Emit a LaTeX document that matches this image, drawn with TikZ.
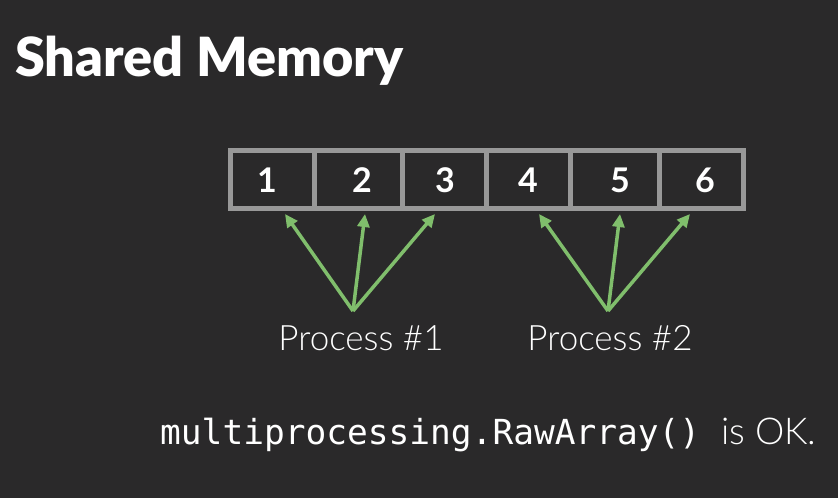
\documentclass[tikz,border=0pt]{standalone}
\usepackage{fontspec}
\setmainfont{Lato}
\newfontfamily\titlefont{Lato Black}
\newfontfamily\lightfont{Lato Light}
\setmonofont{DejaVu Sans Mono}
\usetikzlibrary{arrows.meta}
\definecolor{bg}{RGB}{42,41,42}
\definecolor{cellframe}{RGB}{152,152,152}
\definecolor{ptr}{RGB}{128,190,108}
\begin{document}
\begin{tikzpicture}[x=1pt,y=-1pt,
  cellbox/.style={draw=cellframe,line width=5pt},
  numtext/.style={text=white,inner sep=0pt,font=\fontsize{34}{34}\selectfont\bfseries},
  ptrarrow/.style={draw=ptr,line width=3.5pt,-{Triangle[length=13pt,width=12pt]}},
  proclabel/.style={text=white,inner sep=0pt,anchor=base,font=\lightfont\fontsize{35}{35}\selectfont}]
\fill[bg] (0,0) rectangle (838,498);
\useasboundingbox (0,0) rectangle (838,498);
% heading
\node[text=white,anchor=base west,inner sep=0pt,font=\titlefont\fontsize{54}{54}\selectfont]
  (title) at (15,76) {Shared Memory};
% the six array cells
\foreach \xa/\xb in {230/314,314/402,402/486,486/570,570/659,659/743}{
  \draw[cellbox] (\xa,150.5) rectangle (\xb,208.5);
}
\node[numtext] (n1) at (267,180) {1};
\node[numtext] (n2) at (362,180) {2};
\node[numtext] (n3) at (445,180) {3};
\node[numtext] (n4) at (528,180) {4};
\node[numtext] (n5) at (620,180) {5};
\node[numtext] (n6) at (705,180) {6};
% arrow tips under the cells
\coordinate (a1) at (285,214);
\coordinate (a2) at (365,214);
\coordinate (a3) at (435,214);
\coordinate (a4) at (539,214);
\coordinate (a5) at (620,214);
\coordinate (a6) at (690,214);
% processes
\coordinate (p1) at (353,311);
\coordinate (p2) at (608,311);
\node[proclabel] (l1) at (361,350) {Process \#1};
\node[proclabel] (l2) at (610,350) {Process \#2};
\foreach \t in {a1,a2,a3} \draw[ptrarrow] (p1) -- (\t);
\foreach \t in {a4,a5,a6} \draw[ptrarrow] (p2) -- (\t);
% footer
\node[text=white,anchor=base west,inner sep=0pt,font=\fontsize{34.5}{35}\selectfont]
  (foot) at (160,444) {\ttfamily multiprocessing.RawArray() \lightfont\fontsize{37}{37}\selectfont is OK.};
\end{tikzpicture}
\end{document}
